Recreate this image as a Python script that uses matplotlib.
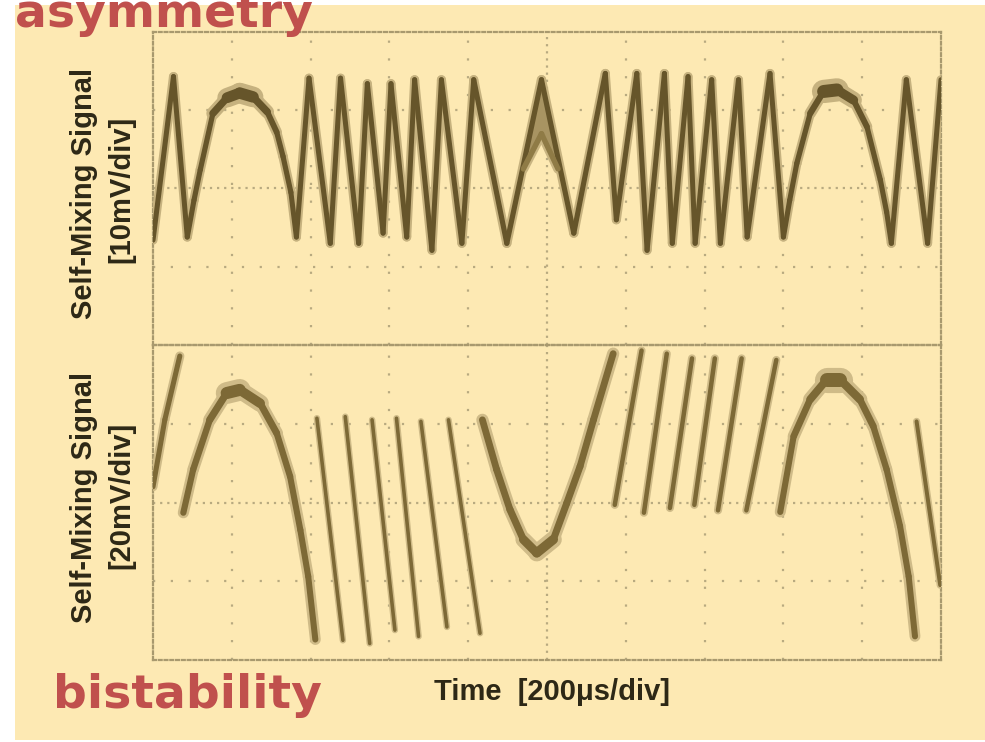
import numpy as np
import matplotlib
matplotlib.use("Agg")
import matplotlib.pyplot as plt
from matplotlib.collections import LineCollection
from matplotlib.patches import Rectangle

# ---------------- data (in screen divisions: x 0..10, y 0..4) ----------------
# upper trace ("asymmetry", 10 mV/div)
top_x = [0.00, 0.26, 0.435, 0.52, 0.60, 0.76, 0.94, 1.10, 1.27, 1.45, 1.57, 1.65,
         1.75, 1.82,
         1.98, 2.25, 2.38, 2.61, 2.72, 2.92, 3.02, 3.22, 3.32, 3.54, 3.66, 3.92,
         4.07, 4.49, 4.93, 5.34, 5.74, 5.88, 6.14, 6.27, 6.49, 6.59, 6.79, 6.88,
         7.09, 7.20, 7.43, 7.54, 7.83, 8.00, 8.08, 8.17, 8.34, 8.51, 8.68, 8.89,
         9.06, 9.23, 9.31, 9.37, 9.56, 9.83, 10.0]
top_y = [1.34, 3.43, 1.38, 1.85, 2.24, 2.96, 3.16, 3.22, 3.17, 2.98, 2.72, 2.41,
         1.95, 1.38,
         3.41, 1.30, 3.41, 1.30, 3.34, 1.43, 3.34, 1.38, 3.39, 1.21, 3.39, 1.30,
         3.39, 1.30, 3.39, 1.43, 3.47, 1.60, 3.47, 1.21, 3.47, 1.30, 3.43, 1.30,
         3.39, 1.30, 3.39, 1.38, 3.47, 1.38, 1.85, 2.32, 2.96, 3.24, 3.26, 3.13,
         2.79, 2.11, 1.70, 1.30, 3.39, 1.30, 3.39]
# lower (noisy) branch of the broad peak near the centre
top_ghost_x = [4.70, 4.93, 5.14]
top_ghost_y = [2.25, 2.70, 2.25]

# lower trace ("bistability", 20 mV/div): separate fringe segments
bot_rise0_x = [0.00, 0.15, 0.34]
bot_rise0_y = [2.20, 3.05, 3.86]
bot_arch1_x = [0.385, 0.51, 0.72, 0.935, 1.10, 1.36, 1.57, 1.74, 1.87, 1.97, 2.06]
bot_arch1_y = [1.87, 2.42, 3.05, 3.39, 3.43, 3.26, 2.88, 2.33, 1.65, 1.06, 0.26]
bot_fall_x0 = [2.08, 2.44, 2.78, 3.09, 3.40, 3.75]
bot_fall_y0 = [3.07, 3.09, 3.05, 3.07, 3.03, 3.05]
bot_fall_x1 = [2.41, 2.75, 3.07, 3.37, 3.73, 4.15]
bot_fall_y1 = [0.25, 0.21, 0.38, 0.30, 0.42, 0.34]
bot_valley_x = [4.18, 4.36, 4.53, 4.70, 4.87, 5.08, 5.25, 5.42, 5.59, 5.84]
bot_valley_y = [3.05, 2.42, 1.91, 1.53, 1.36, 1.53, 1.99, 2.46, 3.05, 3.89]
bot_rise_x0 = [5.86, 6.23, 6.56, 6.87, 7.17, 7.53]
bot_rise_y0 = [1.97, 1.87, 1.93, 1.97, 1.90, 1.90]
bot_rise_x1 = [6.20, 6.52, 6.84, 7.13, 7.47, 7.91]
bot_rise_y1 = [3.93, 3.89, 3.83, 3.83, 3.83, 3.81]
bot_arch2_x = [7.96, 8.13, 8.34, 8.55, 8.72, 8.97, 9.14, 9.31, 9.48, 9.59, 9.67]
bot_arch2_y = [1.88, 2.84, 3.31, 3.56, 3.56, 3.31, 2.97, 2.42, 1.70, 1.06, 0.30]
bot_last_x = [9.69, 9.99]
bot_last_y = [3.03, 0.95]

# text
label_top = ["Self-Mixing Signal", "[10mV/div]"]
label_bot = ["Self-Mixing Signal", "[20mV/div]"]
xlabel = "Time  [200\u03bcs/div]"
title_top = "asymmetry"
title_bot = "bistability"

# ---------------- figure ----------------
W, H = 985, 742
BG = "#fde9b3"
fig = plt.figure(figsize=(W / 100, H / 100), dpi=100, facecolor="white")
bg = Rectangle((15 / W, 2 / H), (W - 15) / W, 735 / H,
               transform=fig.transFigure, facecolor=BG,
               edgecolor="none", zorder=-5)
fig.patches.append(bg)

GRID_C = "#b8aa80"
FRAME_C = "#a8996e"
TXT_C = "#2d2816"
RED = "#c0504d"


def make_panel(rect):
    ax = fig.add_axes(rect)
    ax.set_zorder(2)
    ax.set_xlim(0, 10)
    ax.set_ylim(0, 4)
    ax.patch.set_alpha(0)
    ax.set_xticks([])
    ax.set_yticks([])
    for s in ax.spines.values():
        s.set_linestyle((0, (1.3, 1.3)))
        s.set_linewidth(1.6)
        s.set_color(FRAME_C)
    for x in range(1, 10):
        if x == 5:
            ax.axvline(x, ls=(0, (1, 2.2)), lw=1.6, color=GRID_C, zorder=1)
        else:
            ax.axvline(x, ls=(0, (1, 7)), lw=1.6, color=GRID_C, zorder=1)
    for y in range(1, 4):
        if y == 2:
            ax.axhline(y, ls=(0, (1, 2.2)), lw=1.6, color=GRID_C, zorder=1)
        else:
            ax.axhline(y, ls=(0, (1, 7)), lw=1.6, color=GRID_C, zorder=1)
    return ax


def draw_trace(ax, xs, ys, base_px, extra_px, core, halo):
    pts = np.column_stack([xs, ys])
    segs = np.stack([pts[:-1], pts[1:]], axis=1)
    d = np.diff(pts, axis=0)
    steep = np.abs(d[:, 1]) / np.hypot(d[:, 0], d[:, 1])
    w = (base_px + extra_px * (1 - steep)) * 0.72
    ax.add_collection(LineCollection(segs, linewidths=w * 1.8, colors=halo,
                                     capstyle="round", joinstyle="round",
                                     zorder=3))
    ax.add_collection(LineCollection(segs, linewidths=w, colors=core,
                                     capstyle="round", joinstyle="round",
                                     zorder=4))


ax_top = make_panel([153 / W, 1 - 345 / H, 788 / W, 313 / H])
ax_bot = make_panel([153 / W, 1 - 660 / H, 788 / W, 315 / H])

TOP_CORE, TOP_HALO = "#66552a", "#c6b27f"
BOT_CORE, BOT_HALO = "#7d6936", "#cfbb88"

# broad noisy band at the central peak of the upper trace
peak_i = 28
ax_top.fill([top_ghost_x[0], top_x[peak_i], top_ghost_x[2], top_ghost_x[1]],
            [top_ghost_y[0], top_y[peak_i], top_ghost_y[2], top_ghost_y[1]],
            color="#a89462", lw=0, zorder=3.5)
draw_trace(ax_top, top_x, top_y, 5.0, 9.0, TOP_CORE, TOP_HALO)
draw_trace(ax_top, top_ghost_x, top_ghost_y, 5.0, 4.0, "#8f7b46", "#c9b582")

draw_trace(ax_bot, bot_rise0_x, bot_rise0_y, 5.0, 4.0, BOT_CORE, BOT_HALO)
draw_trace(ax_bot, bot_arch1_x, bot_arch1_y, 6.0, 8.0, BOT_CORE, BOT_HALO)
for i in range(len(bot_fall_x0)):
    draw_trace(ax_bot, [bot_fall_x0[i], bot_fall_x1[i]],
               [bot_fall_y0[i], bot_fall_y1[i]], 3.6, 0, BOT_CORE, BOT_HALO)
draw_trace(ax_bot, bot_valley_x, bot_valley_y, 6.5, 8.0, BOT_CORE, BOT_HALO)
for i in range(len(bot_rise_x0)):
    draw_trace(ax_bot, [bot_rise_x0[i], bot_rise_x1[i]],
               [bot_rise_y0[i], bot_rise_y1[i]], 4.5, 0, BOT_CORE, BOT_HALO)
draw_trace(ax_bot, bot_arch2_x, bot_arch2_y, 6.0, 8.0, BOT_CORE, BOT_HALO)
draw_trace(ax_bot, bot_last_x, bot_last_y, 4.0, 0, BOT_CORE, BOT_HALO)

# ---------------- text ----------------
lab_font = dict(family="Liberation Sans", fontweight="bold", fontsize=21,
                color=TXT_C, rotation=90, ha="center", va="center")
fig.text(84 / W, 1 - 193 / H, label_top[0], **lab_font)
fig.text(121 / W, 1 - 189 / H, label_top[1], **lab_font)
fig.text(84 / W, 1 - 497 / H, label_bot[0], **lab_font)
fig.text(121 / W, 1 - 495 / H, label_bot[1], **lab_font)
fig.text(552 / W, 1 - 700 / H, xlabel, family="Liberation Sans",
         fontweight="bold", fontsize=21, color=TXT_C, ha="center",
         va="baseline")

fig.text(15 / W, 1 - 27 / H, title_top, family="DejaVu Sans",
         fontweight="bold", fontsize=34, color=RED, ha="left", va="baseline",
         zorder=10)
fig.text(53 / W, 1 - 708 / H, title_bot, family="DejaVu Sans",
         fontweight="bold", fontsize=34, color=RED, ha="left", va="baseline",
         zorder=10)

fig.savefig("out.png", dpi=100, facecolor="white")
